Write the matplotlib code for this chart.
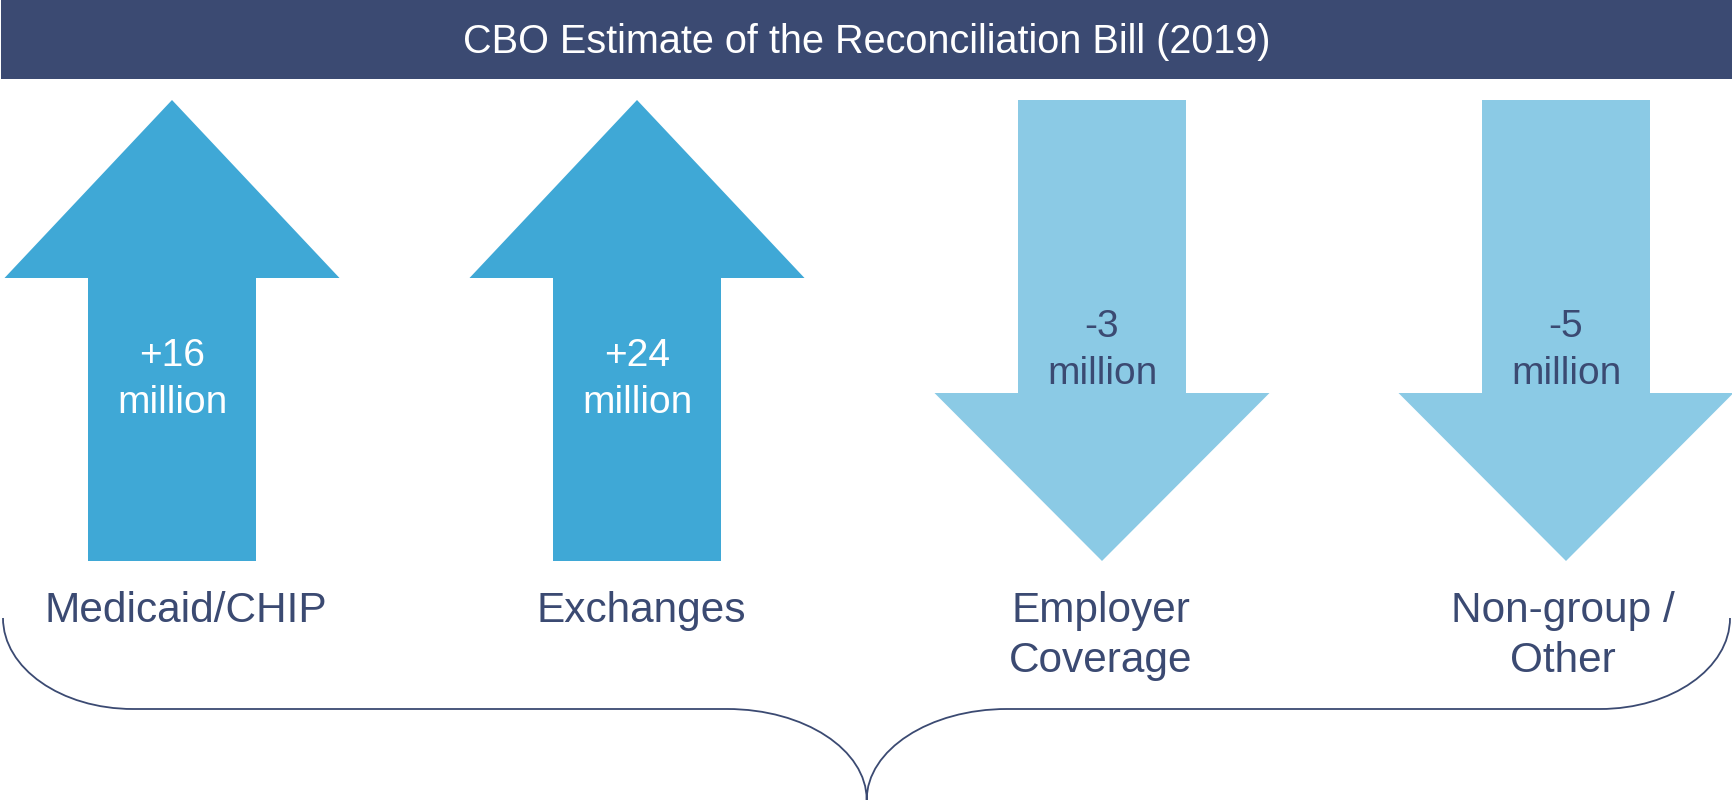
import matplotlib
matplotlib.use("Agg")
import matplotlib.pyplot as plt
from matplotlib.patches import Polygon, Rectangle, PathPatch
from matplotlib.path import Path

plt.rcParams['font.family'] = ['Liberation Sans', 'DejaVu Sans']

# coverage change by source (millions of people)
categorias = ["Medicaid/CHIP", "Exchanges", "Employer\nCoverage", "Non-group /\nOther"]
valores = [16, 24, -3, -5]
titulo = "CBO Estimate of the Reconciliation Bill (2019)"

NAVY = "#3B4A72"
AZUL = "#3FA8D6"
CELESTE = "#8BCAE5"

W, H = 1733, 800
fig = plt.figure(figsize=(W / 100, H / 100), dpi=100)
ax = fig.add_axes([0, 0, 1, 1])
ax.set_xlim(0, W)
ax.set_ylim(H, 0)
ax.axis("off")

# banda del titulo
ax.add_patch(Rectangle((1, 0), W - 1, 79, color=NAVY, lw=0))
ax.text(W / 2, 53, titulo, color="white", fontsize=28.5, ha="center", va="baseline")

centros = [172, 637, 1102, 1566]
centros_txt = [186, 641, 1101, 1563]
semi_cabeza = 167.5
semi_cuerpo = 84


def flecha(cx, valor):
    if valor >= 0:
        punta, base_cabeza, fondo = 100, 278, 561
        color, color_txt = AZUL, "white"
        y1, y2 = 366, 413
    else:
        punta, base_cabeza, fondo = 561, 393, 100
        color, color_txt = CELESTE, NAVY
        y1, y2 = 337, 384
    pts = [
        (cx, punta),
        (cx + semi_cabeza, base_cabeza),
        (cx + semi_cuerpo, base_cabeza),
        (cx + semi_cuerpo, fondo),
        (cx - semi_cuerpo, fondo),
        (cx - semi_cuerpo, base_cabeza),
        (cx - semi_cabeza, base_cabeza),
    ]
    ax.add_patch(Polygon(pts, closed=True, color=color, lw=0))
    ax.text(cx, y1, f"{valor:+d}", color=color_txt, fontsize=28, ha="center", va="baseline")
    ax.text(cx, y2, "million", color=color_txt, fontsize=28, ha="center", va="baseline")


for cx, v in zip(centros, valores):
    flecha(cx, v)

for cx, cat in zip(centros_txt, categorias):
    for i, linea in enumerate(cat.split("\n")):
        ax.text(cx, 622 + 50 * i, linea, color=NAVY, fontsize=30.5, ha="center", va="baseline")

# llave inferior
k = 0.5523
tx = 866.7
verts = [
    (3, 618), (3, 618 + k * 91), (133 - k * 130, 709), (133, 709),
    (727, 709),
    (727 + k * 140, 709), (tx, 800 - k * 91), (tx, 800),
    (tx, 800 - k * 91), (1007 - k * 140, 709), (1007, 709),
    (1600, 709),
    (1600 + k * 130, 709), (1730, 618 + k * 91), (1730, 618),
]
codes = [Path.MOVETO, Path.CURVE4, Path.CURVE4, Path.CURVE4,
         Path.LINETO,
         Path.CURVE4, Path.CURVE4, Path.CURVE4,
         Path.CURVE4, Path.CURVE4, Path.CURVE4,
         Path.LINETO,
         Path.CURVE4, Path.CURVE4, Path.CURVE4]
ax.add_patch(PathPatch(Path(verts, codes), fill=False, edgecolor=NAVY, lw=1.3))

fig.savefig("out.png", dpi=100)
